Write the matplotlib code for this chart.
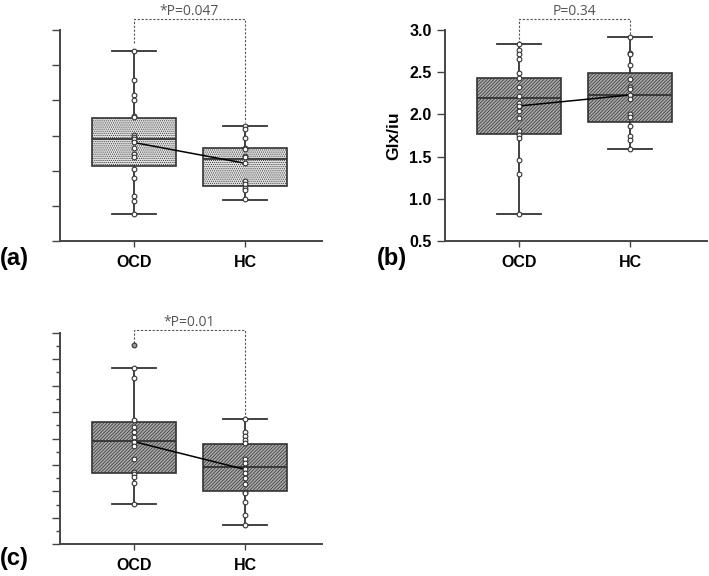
import numpy as np
import matplotlib.pyplot as plt

plt.rcParams['font.family'] = ['Liberation Sans', 'DejaVu Sans']
plt.rcParams['hatch.linewidth'] = 0.5
plt.rcParams['hatch.color'] = '#555555'

groups = ['OCD', 'HC']

# panel (a): box summaries (whislo, q1, med, q3, whishi, mean) per group
a_stats = [[0.76, 2.12, 2.90, 3.49, 5.40, 2.80],
           [1.16, 1.56, 2.33, 2.65, 3.27, 2.21]]
a_ocd = [5.40, 4.57, 4.16, 4.01, 3.56, 3.52, 3.02, 2.97, 2.89, 2.82, 2.64,
         2.47, 2.40, 2.05, 1.80, 1.29, 1.14, 0.76]
a_hc = [3.27, 3.18, 2.94, 2.65, 2.61, 2.43, 2.38, 2.21, 1.71, 1.61, 1.52,
        1.45, 1.19]

# panel (b)
b_stats = [[0.82, 1.77, 2.19, 2.435, 2.83, 2.10],
           [1.59, 1.91, 2.23, 2.49, 2.92, 2.23]]
b_ocd = [2.83, 2.76, 2.72, 2.66, 2.49, 2.43, 2.32, 2.22, 2.14, 2.10, 2.04,
         1.96, 1.80, 1.76, 1.72, 1.46, 1.29, 0.82]
b_hc = [2.92, 2.73, 2.72, 2.58, 2.42, 2.32, 2.30, 2.23, 2.18, 2.01, 1.97,
        1.86, 1.74, 1.70, 1.59]

# panel (c)
c_stats = [[1.52, 2.71, 3.89, 4.61, 6.68, 3.88],
           [0.72, 2.00, 2.91, 3.79, 4.74, 2.83]]
c_ocd = [6.68, 6.30, 4.70, 4.45, 4.26, 4.07, 3.88, 3.73, 3.22, 2.75, 2.66,
         2.53, 2.33, 1.52]
c_hc = [4.74, 4.23, 4.09, 3.94, 3.82, 3.24, 3.06, 2.86, 2.68, 2.49, 2.28,
        1.99, 1.93, 1.60, 1.12, 0.72]
c_outlier = [7.53]

fig = plt.figure(figsize=(7.09, 5.76), dpi=100)


def panel(rect, stats, pts, ylim, face, hatch, ptext, bracket, letter,
          outlier=None, yticks=None, minor=None, labels=False):
    ax = fig.add_axes(rect)
    bx = []
    for s in stats:
        bx.append(dict(whislo=s[0], q1=s[1], med=s[2], q3=s[3], whishi=s[4],
                       fliers=[]))
    art = ax.bxp(bx, positions=[1, 2], widths=0.75, patch_artist=True,
                 capwidths=0.39,
                 boxprops=dict(facecolor=face, edgecolor='#333333',
                               linewidth=1.2),
                 medianprops=dict(color='#333333', linewidth=1.3),
                 whiskerprops=dict(color='#333333', linewidth=1.3),
                 capprops=dict(color='#333333', linewidth=1.3))
    for b in art['boxes']:
        b.set_hatch(hatch)
    # mean line
    ax.plot([1, 2], [stats[0][5], stats[1][5]], color='black', lw=1.1,
            zorder=4)
    for i, p in enumerate(pts):
        ax.plot([i + 1] * len(p), p, 'o', ms=3.4, mfc='white', mec='#333333',
                mew=0.8, zorder=5)
    if outlier:
        ax.plot([1] * len(outlier), outlier, 'o', ms=3.4, mfc='#999999',
                mec='#333333', mew=0.8, zorder=5, clip_on=False)
    # significance bracket
    top, d1, d2 = bracket
    ax.plot([1, 1, 2, 2], [d1, top, top, d2], color='#555555', lw=0.8,
            ls=(0, (2, 1.5)), clip_on=False, zorder=3)
    ax.text(1.5, top, ptext, ha='center', va='bottom', fontsize=10,
            color='#555555', family=['Open Sans', 'DejaVu Sans'])

    ax.set_xlim(0.333, 2.694)
    ax.set_ylim(*ylim)
    for s in ['top', 'right']:
        ax.spines[s].set_visible(False)
    for s in ['left', 'bottom']:
        ax.spines[s].set_linewidth(1.4)
        ax.spines[s].set_color('#444444')
    ax.set_xticks([1, 2])
    ax.set_xticklabels(groups, fontsize=11.5, fontweight='bold')
    ax.tick_params(axis='x', length=4, width=1, color='#444444', pad=6)
    if yticks is not None:
        ax.set_yticks(yticks)
    if minor is not None:
        ax.set_yticks(minor, minor=True)
        ax.tick_params(axis='y', which='minor', length=3, width=1,
                       color='#444444')
    ax.tick_params(axis='y', length=6, width=1, color='#444444')
    if not labels:
        ax.set_yticklabels([])
    else:
        ax.set_yticklabels(['%.1f' % t for t in yticks], fontsize=11.5,
                           fontweight='bold')
    fig.text(letter[0], letter[1], letter[2], fontsize=17, fontweight='bold',
             ha='left', va='center')
    return ax


panel([60 / 709, 1 - 241 / 576, 262 / 709, 211 / 576], a_stats,
      [a_ocd, a_hc], (0, 6), '#e2e2e2', '........', '*P=0.047',
      (6.30, 5.63, 3.38), (0.0, 1 - 258 / 576, '(a)'),
      yticks=np.arange(0, 7))

axb = panel([445 / 709, 1 - 241 / 576, 262 / 709, 211 / 576], b_stats,
            [b_ocd, b_hc], (0.5, 3.0), '#a8a8a8', '//////////', 'P=0.34',
            (3.126, 2.85, 2.94), (377 / 709, 1 - 258 / 576, '(b)'),
            yticks=np.arange(0.5, 3.01, 0.5), labels=True)
axb.set_ylabel('Glx/iu', fontsize=12.5, fontweight='bold', labelpad=6)

panel([60 / 709, 1 - 544.3 / 576, 262 / 709, 211.6 / 576], c_stats,
      [c_ocd, c_hc], (0, 8), '#a8a8a8', '//////////', '*P=0.01',
      (8.1, 7.6, 4.76), (0.0, 1 - 558 / 576, '(c)'), outlier=c_outlier,
      yticks=np.arange(0, 9), minor=np.arange(0.5, 8, 1.0))

fig.savefig('out.png', dpi=100)
